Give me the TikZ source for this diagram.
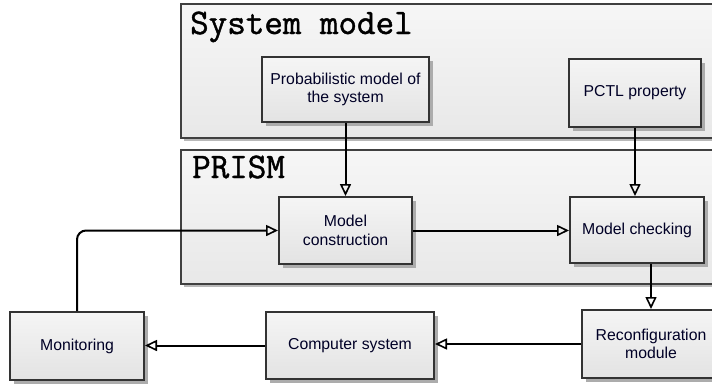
\documentclass[tikz,border=0pt]{standalone}
\usepackage{fontspec}
\setmainfont{Liberation Sans}
\newfontfamily\titlefont[FakeBold=1.2]{Latin Modern Mono}
\usetikzlibrary{arrows.meta,shadows,calc}
\begin{document}
\begin{tikzpicture}[x=1pt,y=-1pt,
  box/.style={draw=black!80, line width=2pt, top color=gray!8, bottom color=gray!22,
    general shadow={fill=gray!65, shadow xshift=4pt, shadow yshift=-4pt},
    align=center, inner sep=2pt, font=\fontsize{15.8}{18.5}\selectfont, text=black!85!blue},
  bigbox/.style={draw=black!75, line width=2pt, top color=gray!7, bottom color=gray!18,
    general shadow={fill=gray!55, shadow xshift=3pt, shadow yshift=-3pt}, inner sep=0pt},
  title/.style={anchor=base west, font=\titlefont\fontsize{36}{38}\selectfont, inner sep=0pt},
  conn/.style={line width=2pt, -{Triangle[open, length=12pt, width=11pt, line width=1.6pt]}}
]
\useasboundingbox (0,0) rectangle (712,384);
\clip (0,0) rectangle (712,384);
\fill[white] (0,0) rectangle (712,384);
% containers
\node[bigbox, minimum width=544pt, minimum height=134pt] (sys) at (453,71) {};
\node[bigbox, minimum width=544pt, minimum height=134pt] (prism) at (453,217) {};
\node[title] (systitle) at (190,34) {System model};
\node[title] (prismtitle) at (192,178) {PRISM};
% boxes
\node[box, minimum width=167pt, minimum height=65pt] (prob) at (345.5,89.5) {Probabilistic model of\\the system};
\node[box, minimum width=132pt, minimum height=68pt] (pctl) at (635,93) {PCTL property};
\node[box, minimum width=133pt, minimum height=67pt] (mcons) at (345.5,230.5) {Model\\construction};
\node[box, minimum width=134pt, minimum height=66pt] (mc) at (637,230) {Model checking};
\node[box, minimum width=134pt, minimum height=68pt] (mon) at (77,346) {Monitoring};
\node[box, minimum width=168pt, minimum height=67pt] (cs) at (350,345.5) {Computer system};
\node[box, minimum width=138pt, minimum height=68pt] (reconf) at (651,344) {Reconfiguration\\module};
% connectors
\draw[conn] (prob.south) -- (mcons.north);
\draw[conn] (pctl.south) -- (pctl.south |- mc.north);
\draw[conn] (mcons.east) -- (mcons.east -| mc.west);
\draw[conn] (reconf.north |- mc.south) -- (reconf.north);
\draw[conn] (reconf.west) -- (reconf.west -| cs.east);
\draw[conn] (cs.west) -- (cs.west -| mon.east);
\draw[conn, rounded corners=9pt] (mon.north) |- (mcons.west);
\end{tikzpicture}
\end{document}
